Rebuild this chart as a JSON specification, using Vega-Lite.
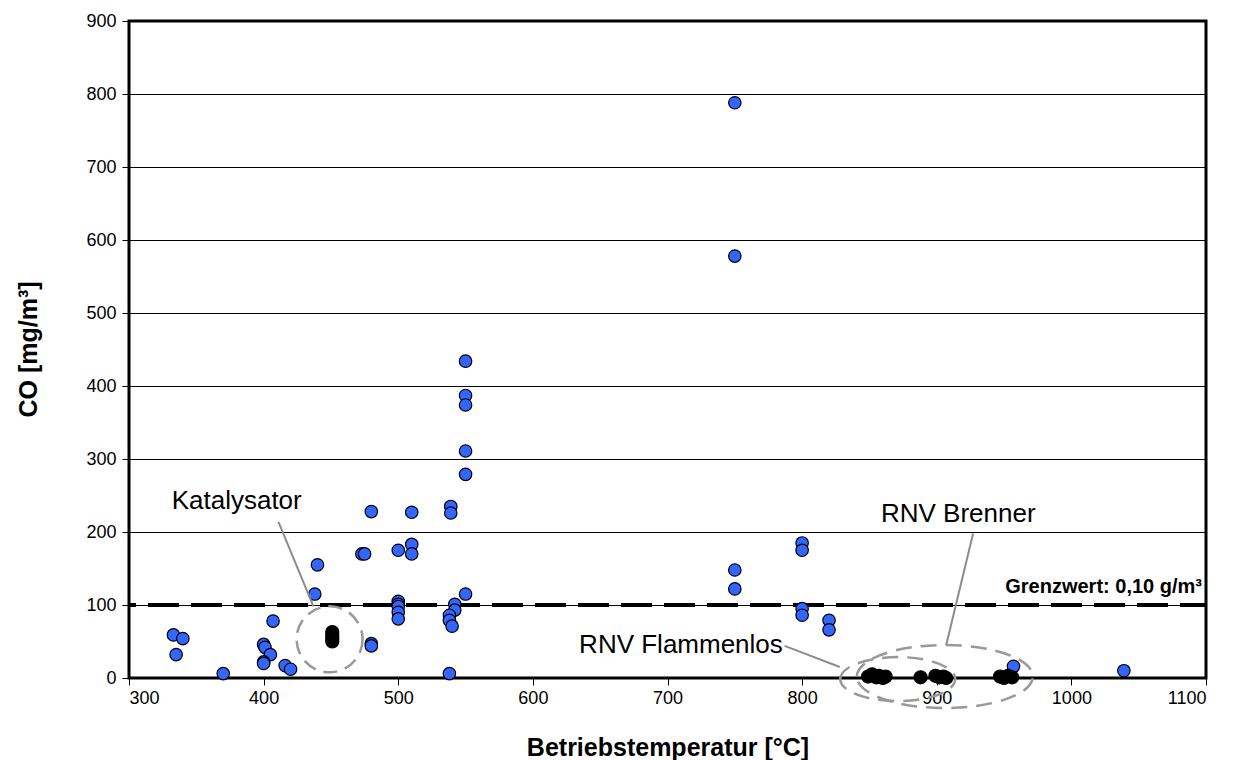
{
  "$schema": "https://vega.github.io/schema/vega-lite/v6.json",
  "width": 1077,
  "height": 657,
  "autosize": {"type": "none"},
  "padding": {"left": 129, "top": 21, "right": 32, "bottom": 82},
  "background": "white",
  "config": {
    "font": "Liberation Sans",
    "view": {"stroke": "black", "strokeWidth": 3},
    "axis": {
      "labelFont": "Liberation Sans",
      "labelFontSize": 18,
      "labelColor": "black",
      "titleFont": "Liberation Sans",
      "titleFontSize": 25,
      "titleFontWeight": "bold",
      "titleColor": "black",
      "tickColor": "black",
      "tickSize": 7,
      "tickWidth": 1,
      "domain": false,
      "format": "d"
    }
  },
  "datasets": {
    "messwerte": [
      {"temperatur": 333, "co": 59}, {"temperatur": 340, "co": 54}, {"temperatur": 335, "co": 32},
      {"temperatur": 370, "co": 6}, {"temperatur": 407, "co": 78}, {"temperatur": 400, "co": 46},
      {"temperatur": 401, "co": 42}, {"temperatur": 405, "co": 32}, {"temperatur": 400, "co": 22},
      {"temperatur": 400, "co": 20}, {"temperatur": 416, "co": 17}, {"temperatur": 420, "co": 12},
      {"temperatur": 440, "co": 155}, {"temperatur": 438, "co": 115}, {"temperatur": 473, "co": 170},
      {"temperatur": 475, "co": 170}, {"temperatur": 480, "co": 47}, {"temperatur": 480, "co": 44},
      {"temperatur": 480, "co": 228}, {"temperatur": 510, "co": 227}, {"temperatur": 539, "co": 235},
      {"temperatur": 539, "co": 226}, {"temperatur": 500, "co": 175}, {"temperatur": 510, "co": 183},
      {"temperatur": 510, "co": 170}, {"temperatur": 550, "co": 115}, {"temperatur": 500, "co": 105},
      {"temperatur": 500, "co": 101}, {"temperatur": 500, "co": 98}, {"temperatur": 500, "co": 90},
      {"temperatur": 500, "co": 81}, {"temperatur": 542, "co": 101}, {"temperatur": 542, "co": 93},
      {"temperatur": 538, "co": 86}, {"temperatur": 538, "co": 79}, {"temperatur": 540, "co": 71},
      {"temperatur": 538, "co": 6}, {"temperatur": 550, "co": 434}, {"temperatur": 550, "co": 387},
      {"temperatur": 550, "co": 374}, {"temperatur": 550, "co": 311}, {"temperatur": 550, "co": 279},
      {"temperatur": 750, "co": 788}, {"temperatur": 750, "co": 578}, {"temperatur": 750, "co": 148},
      {"temperatur": 750, "co": 122}, {"temperatur": 800, "co": 185}, {"temperatur": 800, "co": 175},
      {"temperatur": 800, "co": 95}, {"temperatur": 800, "co": 86}, {"temperatur": 820, "co": 79},
      {"temperatur": 820, "co": 66}, {"temperatur": 957, "co": 16}, {"temperatur": 1039, "co": 10}
    ],
    "anlagen": [
      {"temperatur": 451, "co": 50}, {"temperatur": 451, "co": 54}, {"temperatur": 451, "co": 58},
      {"temperatur": 451, "co": 63},
      {"temperatur": 849, "co": 2}, {"temperatur": 852, "co": 5}, {"temperatur": 855, "co": 1},
      {"temperatur": 857, "co": 3}, {"temperatur": 860, "co": 0}, {"temperatur": 862, "co": 2},
      {"temperatur": 888, "co": 1}, {"temperatur": 899, "co": 3}, {"temperatur": 902, "co": 1},
      {"temperatur": 905, "co": 2}, {"temperatur": 907, "co": 0}, {"temperatur": 947, "co": 2},
      {"temperatur": 950, "co": 0}, {"temperatur": 953, "co": 3}, {"temperatur": 956, "co": 1}
    ],
    "grenzwert": [{"co": 100, "label": "Grenzwert: 0,10 g/m³", "temperatur": 1097}],
    "markierungen": [
      {"name": "Katalysator", "temperatur": 449, "co": 53},
      {"name": "RNV Flammenlos", "temperatur": 871, "co": -1.5},
      {"name": "RNV Brenner", "temperatur": 906, "co": 2}
    ],
    "texte": [
      {"label": "Katalysator", "temperatur": 380, "co": 232},
      {"label": "RNV Flammenlos", "temperatur": 710, "co": 34},
      {"label": "RNV Brenner", "temperatur": 916, "co": 214}
    ],
    "linien": [
      {"name": "Katalysator", "t1": 411, "c1": 214, "t2": 437, "c2": 98},
      {"name": "RNV Flammenlos", "t1": 787, "c1": 44, "t2": 828, "c2": 15},
      {"name": "RNV Brenner", "t1": 927, "c1": 198, "t2": 907, "c2": 45}
    ]
  },
  "layer": [
    {
      "data": {"name": "grenzwert"},
      "mark": {"type": "rule", "stroke": "black", "strokeWidth": 4, "strokeDash": [31, 12], "strokeDashOffset": 5},
      "encoding": {
        "y": {
          "field": "co",
          "type": "quantitative",
          "scale": {"domain": [0, 900], "nice": false, "zero": false},
          "axis": {
            "title": "CO [mg/m³]",
            "values": [0, 100, 200, 300, 400, 500, 600, 700, 800, 900],
            "grid": true,
            "gridColor": "black",
            "gridWidth": 1,
            "gridOpacity": 1,
            "labelPadding": 6,
            "titleAngle": -90,
            "titleX": -101,
            "titleY": 328,
            "titleBaseline": "middle",
            "titleAlign": "center"
          }
        }
      }
    },
    {
      "data": {"name": "messwerte"},
      "mark": {"type": "point", "shape": "circle", "filled": true, "size": 155, "fill": "#3366ff", "stroke": "black", "strokeWidth": 1.2, "opacity": 1},
      "encoding": {
        "x": {
          "field": "temperatur",
          "type": "quantitative",
          "scale": {"domain": [300, 1100], "nice": false, "zero": false},
          "axis": {
            "title": "Betriebstemperatur [°C]",
            "values": [300, 400, 500, 600, 700, 800, 900, 1000, 1100],
            "grid": false,
            "labelPadding": 4,
            "titleY": 77,
            "titleBaseline": "alphabetic"
          }
        },
        "y": {"field": "co", "type": "quantitative"}
      }
    },
    {
      "data": {"name": "anlagen"},
      "mark": {"type": "point", "shape": "circle", "filled": true, "size": 170, "fill": "black", "stroke": "black", "strokeWidth": 1.2, "opacity": 1},
      "encoding": {
        "x": {"field": "temperatur", "type": "quantitative"},
        "y": {"field": "co", "type": "quantitative"}
      }
    },
    {
      "data": {"name": "linien"},
      "mark": {"type": "rule", "stroke": "#8c8c8c", "strokeWidth": 2},
      "encoding": {
        "x": {"field": "t1", "type": "quantitative"},
        "y": {"field": "c1", "type": "quantitative"},
        "x2": {"field": "t2"},
        "y2": {"field": "c2"}
      }
    },
    {
      "data": {"name": "markierungen"},
      "transform": [{"filter": "datum.name === 'Katalysator'"}],
      "mark": {"type": "point", "shape": "circle", "filled": false, "size": 4356, "stroke": "#999999", "strokeWidth": 2.5, "strokeDash": [14, 8], "opacity": 1},
      "encoding": {
        "x": {"field": "temperatur", "type": "quantitative"},
        "y": {"field": "co", "type": "quantitative"}
      }
    },
    {
      "data": {"name": "markierungen"},
      "transform": [{"filter": "datum.name === 'RNV Flammenlos'"}],
      "mark": {
        "type": "point",
        "shape": "M-1,0C-1,-0.2115,-0.5523,-0.383,0,-0.383C0.5523,-0.383,1,-0.2115,1,0C1,0.2115,0.5523,0.383,0,0.383C-0.5523,0.383,-1,0.2115,-1,0Z",
        "filled": false, "size": 13225, "stroke": "#999999", "strokeWidth": 2.5, "strokeDash": [16, 9], "opacity": 1
      },
      "encoding": {
        "x": {"field": "temperatur", "type": "quantitative"},
        "y": {"field": "co", "type": "quantitative"}
      }
    },
    {
      "data": {"name": "markierungen"},
      "transform": [{"filter": "datum.name === 'RNV Brenner'"}],
      "mark": {
        "type": "point",
        "shape": "M-1,0C-1,-0.1977,-0.5523,-0.358,0,-0.358C0.5523,-0.358,1,-0.1977,1,0C1,0.1977,0.5523,0.358,0,0.358C-0.5523,0.358,-1,0.1977,-1,0Z",
        "filled": false, "size": 30976, "stroke": "#999999", "strokeWidth": 2.5, "strokeDash": [16, 9], "opacity": 1
      },
      "encoding": {
        "x": {"field": "temperatur", "type": "quantitative"},
        "y": {"field": "co", "type": "quantitative"}
      }
    },
    {
      "data": {"name": "texte"},
      "mark": {"type": "text", "font": "Liberation Sans", "fontSize": 26, "align": "center", "baseline": "alphabetic", "color": "black"},
      "encoding": {
        "x": {"field": "temperatur", "type": "quantitative"},
        "y": {"field": "co", "type": "quantitative"},
        "text": {"field": "label"}
      }
    },
    {
      "data": {"name": "grenzwert"},
      "mark": {"type": "text", "font": "Liberation Sans", "fontSize": 20, "fontWeight": "bold", "align": "right", "baseline": "alphabetic", "color": "black", "dy": -12},
      "encoding": {
        "x": {"field": "temperatur", "type": "quantitative"},
        "y": {"field": "co", "type": "quantitative"},
        "text": {"field": "label"}
      }
    }
  ]
}
